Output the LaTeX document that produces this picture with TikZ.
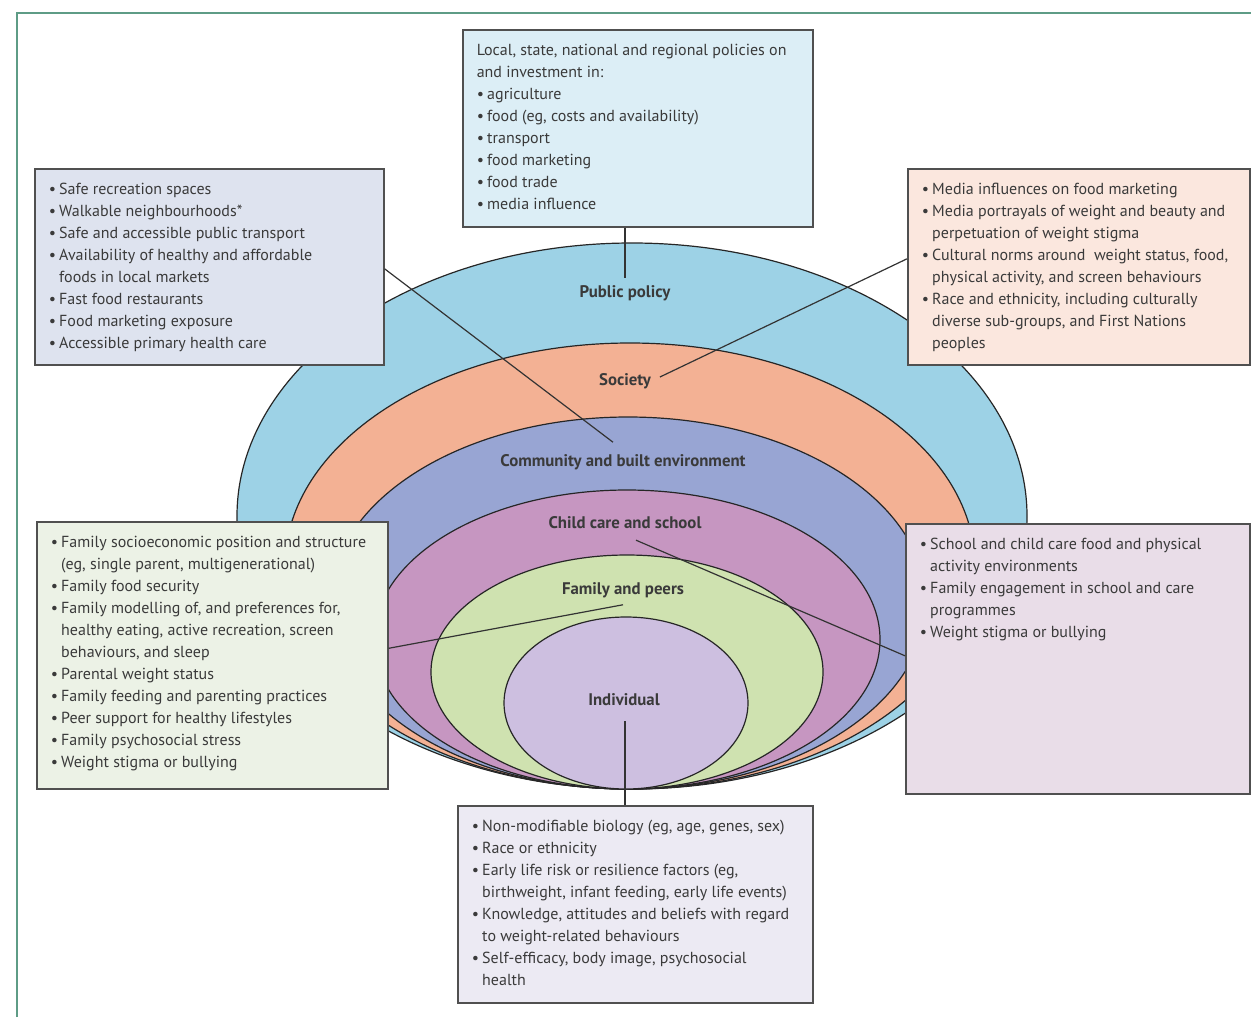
\documentclass[tikz,border=0pt]{standalone}
\usepackage{fontspec}
\setmainfont{PT Sans}
\usetikzlibrary{positioning}
\usetikzlibrary{calc}

\definecolor{policyring}{HTML}{9DD2E6}
\definecolor{societyring}{HTML}{F3B194}
\definecolor{communityring}{HTML}{98A5D3}
\definecolor{schoolring}{HTML}{C696C1}
\definecolor{familyring}{HTML}{CFE2B0}
\definecolor{individualring}{HTML}{CDBFE0}
\definecolor{policyfill}{HTML}{DCEEF6}
\definecolor{communityfill}{HTML}{DEE3EF}
\definecolor{societyfill}{HTML}{FBE7DE}
\definecolor{familyfill}{HTML}{ECF2E6}
\definecolor{schoolfill}{HTML}{E9DDE8}
\definecolor{individualfill}{HTML}{ECEAF3}
\definecolor{textgray}{HTML}{3A3A3A}
\definecolor{panelgray}{HTML}{505050}
\definecolor{framegreen}{HTML}{5E9C86}

\newcommand{\bul}{\textbullet\hspace{0.2em}}
\newcommand{\cont}{\hphantom{\bul}}
\newcommand{\panelbody}[3]{\parbox[t][#1][t]{#2}{\raggedright #3}}

\tikzset{
  ring/.style={draw=black!85, line width=0.6pt},
  ringlabel/.style={font=\bfseries\fontsize{8.4}{10}\selectfont, text=textgray},
  panel/.style={draw=panelgray, line width=0.8pt, inner xsep=7pt, inner ysep=7pt,
    anchor=north west, font=\fontsize{8}{11}\selectfont, text=textgray},
  link/.style={draw=black!80, line width=0.6pt},
  frameline/.style={draw=framegreen, line width=1pt}
}

\begin{document}
\begin{tikzpicture}[x=0.5pt, y=-0.5pt]
  \useasboundingbox (0,0) rectangle (1251,1017);
  \draw[frameline] (17,1017) -- (17,13) -- (1251,13);

  % nested rings, all touching at the bottom
  \filldraw[ring, fill=policyring] (632,516) ellipse [x radius=395, y radius=273];
  \filldraw[ring, fill=societyring] (630,566) ellipse [x radius=345, y radius=223];
  \filldraw[ring, fill=communityring] (628,603) ellipse [x radius=298, y radius=186];
  \filldraw[ring, fill=schoolring] (627,639.5) ellipse [x radius=253, y radius=149.5];
  \filldraw[ring, fill=familyring] (627,672) ellipse [x radius=196, y radius=117];
  \filldraw[ring, fill=individualring] (626,703) ellipse [x radius=122, y radius=86];

  \node[ringlabel] (pubpol) at (625,293) {Public policy};
  \node[ringlabel] (soc) at (625,381) {Society};
  \node[ringlabel] (comm) at (623,462) {Community and built environment};
  \node[ringlabel] (school) at (625,523) {Child care and school};
  \node[ringlabel] (fam) at (623,590) {Family and peers};
  \node[ringlabel] (ind) at (624,700) {Individual};

  \node[panel, fill=policyfill] (policybox) at (462,29) {\panelbody{84.5pt}{161pt}{%
    Local, state, national and regional policies on\\
    and investment in:\\
    \bul agriculture\\
    \bul food (eg, costs and availability)\\
    \bul transport\\
    \bul food marketing\\
    \bul food trade\\
    \bul media influence}};

  \node[panel, fill=communityfill] (commbox) at (34,168) {\panelbody{84pt}{160.5pt}{%
    \bul Safe recreation spaces\\
    \bul Walkable neighbourhoods*\\
    \bul Safe and accessible public transport\\
    \bul Availability of healthy and affordable\\
    \cont foods in local markets\\
    \bul Fast food restaurants\\
    \bul Food marketing exposure\\
    \bul Accessible primary health care}};

  \node[panel, fill=societyfill] (socbox) at (907,168) {\panelbody{84pt}{157pt}{%
    \bul Media influences on food marketing\\
    \bul Media portrayals of weight and beauty and\\
    \cont perpetuation of weight stigma\\
    \bul Cultural norms around\ \ weight status, food,\\
    \cont physical activity, and screen behaviours\\
    \bul Race and ethnicity, including culturally\\
    \cont diverse sub-groups, and First Nations\\
    \cont peoples}};

  \node[panel, fill=familyfill] (fambox) at (36,521) {\panelbody{119.5pt}{161.5pt}{%
    \bul Family socioeconomic position and structure\\
    \cont (eg, single parent, multigenerational)\\
    \bul Family food security\\
    \bul Family modelling of, and preferences for,\\
    \cont healthy eating, active recreation, screen\\
    \cont behaviours, and sleep\\
    \bul Parental weight status\\
    \bul Family feeding and parenting practices\\
    \bul Peer support for healthy lifestyles\\
    \bul Family psychosocial stress\\
    \bul Weight stigma or bullying}};

  \node[panel, fill=schoolfill] (schoolbox) at (905,523) {\panelbody{121pt}{158pt}{%
    \bul School and child care food and physical\\
    \cont activity environments\\
    \bul Family engagement in school and care\\
    \cont programmes\\
    \bul Weight stigma or bullying}};

  \node[panel, fill=individualfill] (indbox) at (457,805) {\panelbody{84.5pt}{163.5pt}{%
    \bul Non-modifiable biology (eg, age, genes, sex)\\
    \bul Race or ethnicity\\
    \bul Early life risk or resilience factors (eg,\\
    \cont birthweight, infant feeding, early life events)\\
    \bul Knowledge, attitudes and beliefs with regard\\
    \cont to weight-related behaviours\\
    \bul Self-efficacy, body image, psychosocial\\
    \cont health}};

  \draw[link] (policybox.south -| pubpol) -- (pubpol.north);
  \draw[link] ($(commbox.east)+(0,2)$) -- ($(comm.north)+(-10,-5)$);
  \draw[link] ($(socbox.west)+(0,-8)$) -- ($(soc.east)+(2,-4)$);
  \draw[link] ($(fambox.east)+(0,-7)$) -- (fam.south);
  \draw[link] ($(school.south)+(11,4)$) -- ($(schoolbox.west)+(0,-3)$);
  \draw[link] ($(ind.south)+(1,8)$) coordinate (indfoot) -- (indfoot |- indbox.north);
\end{tikzpicture}
\end{document}
